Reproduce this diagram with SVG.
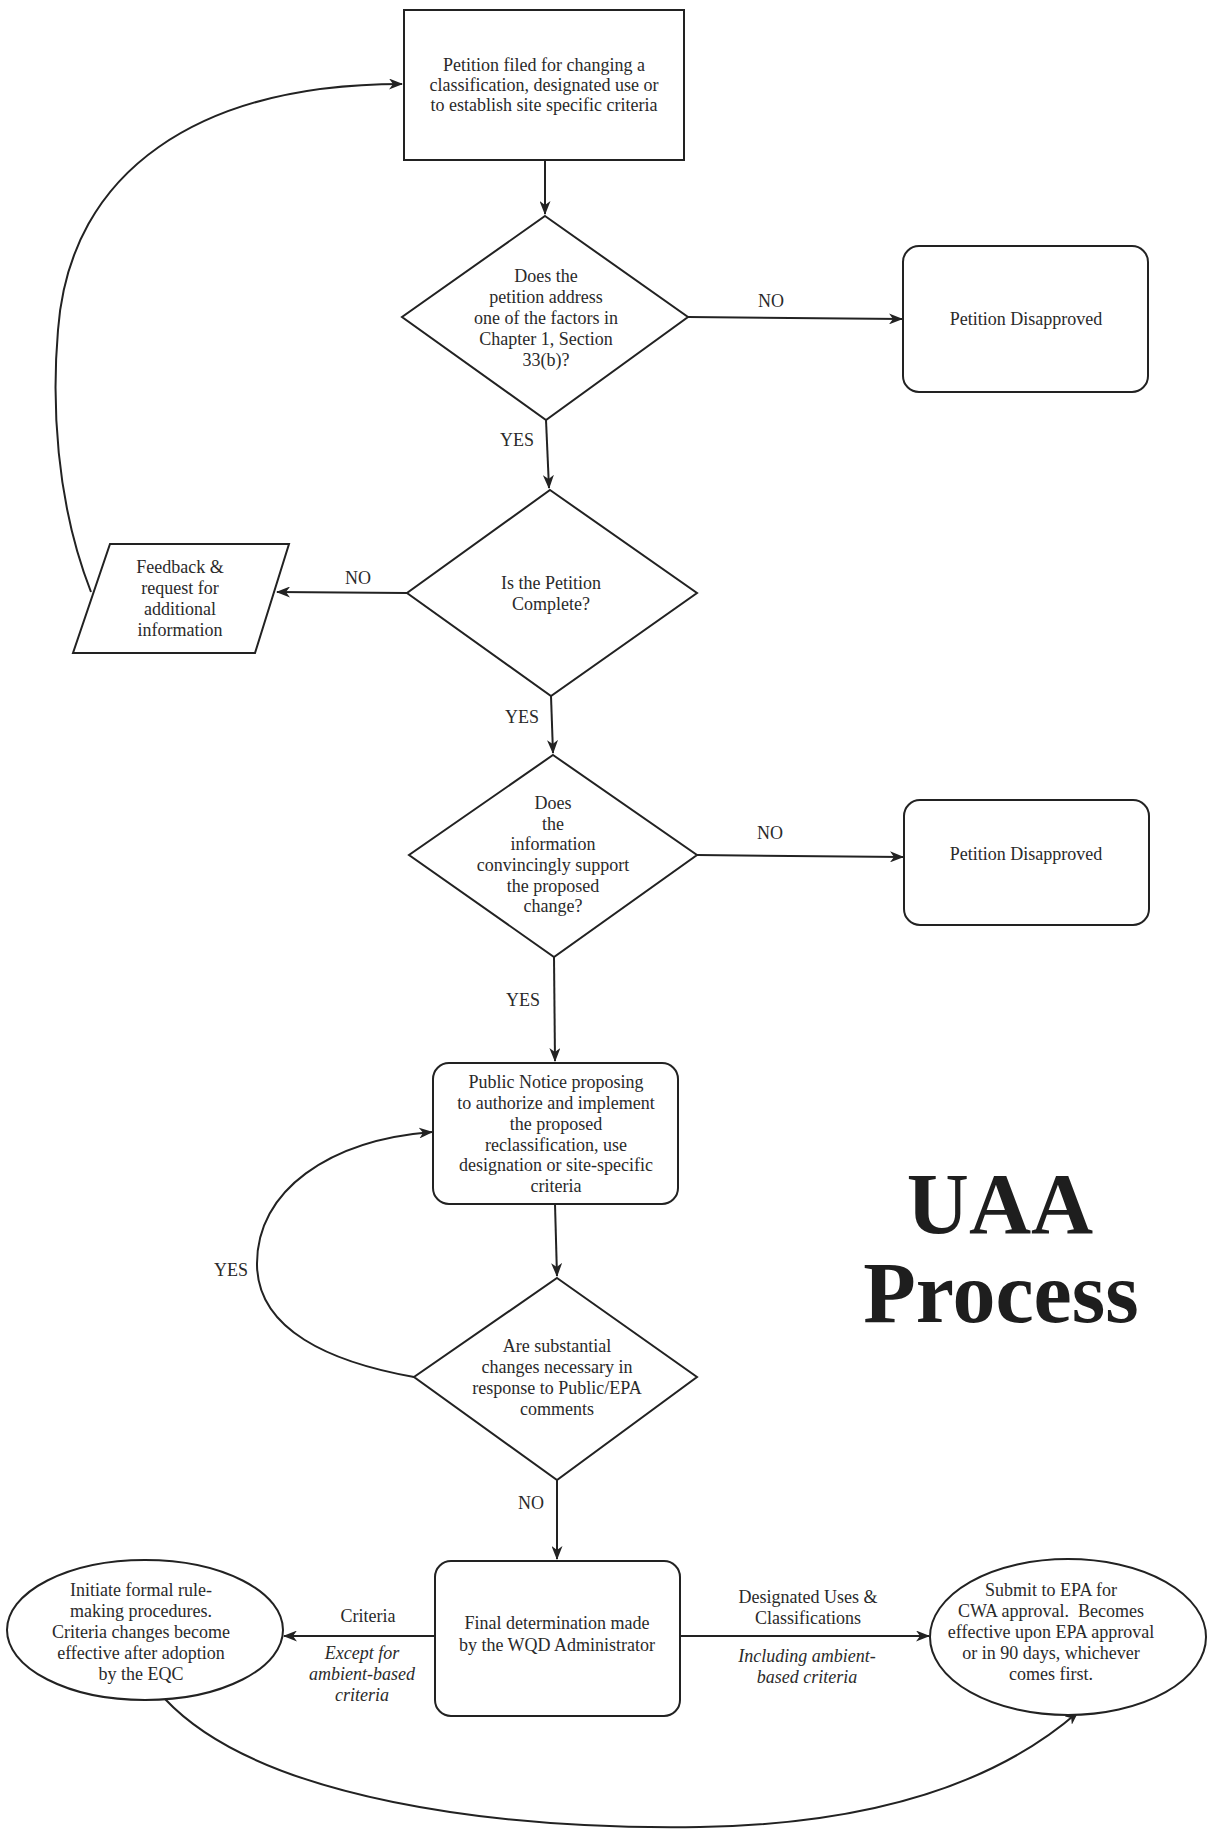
<svg xmlns="http://www.w3.org/2000/svg" width="1209" height="1829" viewBox="0 0 1209 1829">
<style>
.shape{fill:#fff;stroke:#222;stroke-width:2}
.t{font-family:"Liberation Serif","Times New Roman",serif;font-size:18px;fill:#2a2a2a;text-anchor:middle}
.i{font-style:italic}
.title{font-family:"Liberation Serif","Times New Roman",serif;font-size:86px;font-weight:bold;fill:#1e1e1e;text-anchor:middle}
.c{fill:none;stroke:#222;stroke-width:2}
</style>
<defs>
<marker id="ah" viewBox="0 0 14 11" refX="13" refY="5.5" markerWidth="14" markerHeight="11" markerUnits="userSpaceOnUse" orient="auto">
<path d="M0,0 L14,5.5 L0,11 L4,5.5 z" fill="#222"/>
</marker>
</defs>
<rect width="1209" height="1829" fill="#fff"/>
<g id="connectors">
<path class="c" d="M545,160 L545,214" marker-end="url(#ah)"/>
<path class="c" d="M688,317 L902,319" marker-end="url(#ah)"/>
<path class="c" d="M546,420 L549,488" marker-end="url(#ah)"/>
<path class="c" d="M407,593 L277,592" marker-end="url(#ah)"/>
<path class="c" d="M91,592 C55,500 52,400 58,330 C70,170 200,84 402,84" marker-end="url(#ah)"/>
<path class="c" d="M551,696 L553,753" marker-end="url(#ah)"/>
<path class="c" d="M697,855 L903,857" marker-end="url(#ah)"/>
<path class="c" d="M554,957 L555,1061" marker-end="url(#ah)"/>
<path class="c" d="M555,1204 L557,1276" marker-end="url(#ah)"/>
<path class="c" d="M414,1377 C330,1362 258,1330 257,1265 C256,1190 330,1140 432,1132" marker-end="url(#ah)"/>
<path class="c" d="M557,1480 L557,1559" marker-end="url(#ah)"/>
<path class="c" d="M435,1636 L284,1636" marker-end="url(#ah)"/>
<path class="c" d="M680,1636 L929,1636" marker-end="url(#ah)"/>
<path class="c" d="M165,1699 C260,1800 500,1830 700,1827 C880,1824 1000,1780 1078,1712" marker-end="url(#ah)"/>
<text class="t" x="771" y="307">NO</text>
<text class="t" x="517" y="446">YES</text>
<text class="t" x="358" y="584">NO</text>
<text class="t" x="522" y="723">YES</text>
<text class="t" x="770" y="839">NO</text>
<text class="t" x="523" y="1006">YES</text>
<text class="t" x="231" y="1276">YES</text>
<text class="t" x="531" y="1509">NO</text>
<text class="t" x="368" y="1622">Criteria</text>
<text class="t i" x="362" y="1659">Except for</text>
<text class="t i" x="362" y="1680">ambient-based</text>
<text class="t i" x="362" y="1701">criteria</text>
<text class="t" x="808" y="1603">Designated Uses &amp;</text>
<text class="t" x="808" y="1624">Classifications</text>
<text class="t i" x="807" y="1662">Including ambient-</text>
<text class="t i" x="807" y="1683">based criteria</text>
</g>
<g id="petition">
<rect class="shape" x="404" y="10" width="280" height="150"/>
<text class="t" x="544" y="71">Petition filed for changing a</text>
<text class="t" x="544" y="91">classification, designated use or</text>
<text class="t" x="544" y="111">to establish site specific criteria</text>
</g>
<g id="decision1">
<polygon class="shape" points="545,216 688,317 546,420 402,317"/>
<text class="t" x="546" y="282">Does the</text>
<text class="t" x="546" y="303">petition address</text>
<text class="t" x="546" y="324">one of the factors in</text>
<text class="t" x="546" y="345">Chapter 1, Section</text>
<text class="t" x="546" y="366">33(b)?</text>
</g>
<g id="disapproved1">
<rect class="shape" x="903" y="246" width="245" height="146" rx="16"/>
<text class="t" x="1026" y="325">Petition Disapproved</text>
</g>
<g id="decision2">
<polygon class="shape" points="550,490 697,593 551,696 407,593"/>
<text class="t" x="551" y="589">Is the Petition</text>
<text class="t" x="551" y="610">Complete?</text>
</g>
<g id="feedback">
<polygon class="shape" points="110,544 289,544 255,653 73,653"/>
<text class="t" x="180" y="573">Feedback &amp;</text>
<text class="t" x="180" y="594">request for</text>
<text class="t" x="180" y="615">additional</text>
<text class="t" x="180" y="636">information</text>
</g>
<g id="decision3">
<polygon class="shape" points="553,755 697,855 554,957 409,855"/>
<text class="t" x="553" y="809">Does</text>
<text class="t" x="553" y="830">the</text>
<text class="t" x="553" y="850">information</text>
<text class="t" x="553" y="871">convincingly support</text>
<text class="t" x="553" y="892">the proposed</text>
<text class="t" x="553" y="912">change?</text>
</g>
<g id="disapproved2">
<rect class="shape" x="904" y="800" width="245" height="125" rx="16"/>
<text class="t" x="1026" y="860">Petition Disapproved</text>
</g>
<g id="publicnotice">
<rect class="shape" x="433" y="1063" width="245" height="141" rx="16"/>
<text class="t" x="556" y="1088">Public Notice proposing</text>
<text class="t" x="556" y="1109">to authorize and implement</text>
<text class="t" x="556" y="1130">the proposed</text>
<text class="t" x="556" y="1151">reclassification, use</text>
<text class="t" x="556" y="1171">designation or site-specific</text>
<text class="t" x="556" y="1192">criteria</text>
</g>
<g id="decision4">
<polygon class="shape" points="557,1278 697,1377 557,1480 414,1377"/>
<text class="t" x="557" y="1352">Are substantial</text>
<text class="t" x="557" y="1373">changes necessary in</text>
<text class="t" x="557" y="1394">response to Public/EPA</text>
<text class="t" x="557" y="1415">comments</text>
</g>
<g id="final">
<rect class="shape" x="435" y="1561" width="245" height="155" rx="16"/>
<text class="t" x="557" y="1629">Final determination made</text>
<text class="t" x="557" y="1651">by the WQD Administrator</text>
</g>
<g id="rulemaking">
<ellipse class="shape" cx="145" cy="1630" rx="138" ry="70"/>
<text class="t" x="141" y="1596">Initiate formal rule-</text>
<text class="t" x="141" y="1617">making procedures.</text>
<text class="t" x="141" y="1638">Criteria changes become</text>
<text class="t" x="141" y="1659">effective after adoption</text>
<text class="t" x="141" y="1680">by the EQC</text>
</g>
<g id="submit">
<ellipse class="shape" cx="1068" cy="1637" rx="138" ry="78"/>
<text class="t" x="1051" y="1596">Submit to EPA for</text>
<text class="t" x="1051" y="1617" xml:space="preserve">CWA approval.  Becomes</text>
<text class="t" x="1051" y="1638">effective upon EPA approval</text>
<text class="t" x="1051" y="1659">or in 90 days, whichever</text>
<text class="t" x="1051" y="1680">comes first.</text>
</g>
<g id="title">
<text class="title" x="1000" y="1233">UAA</text>
<text class="title" x="1001" y="1322">Process</text>
</g>
</svg>
